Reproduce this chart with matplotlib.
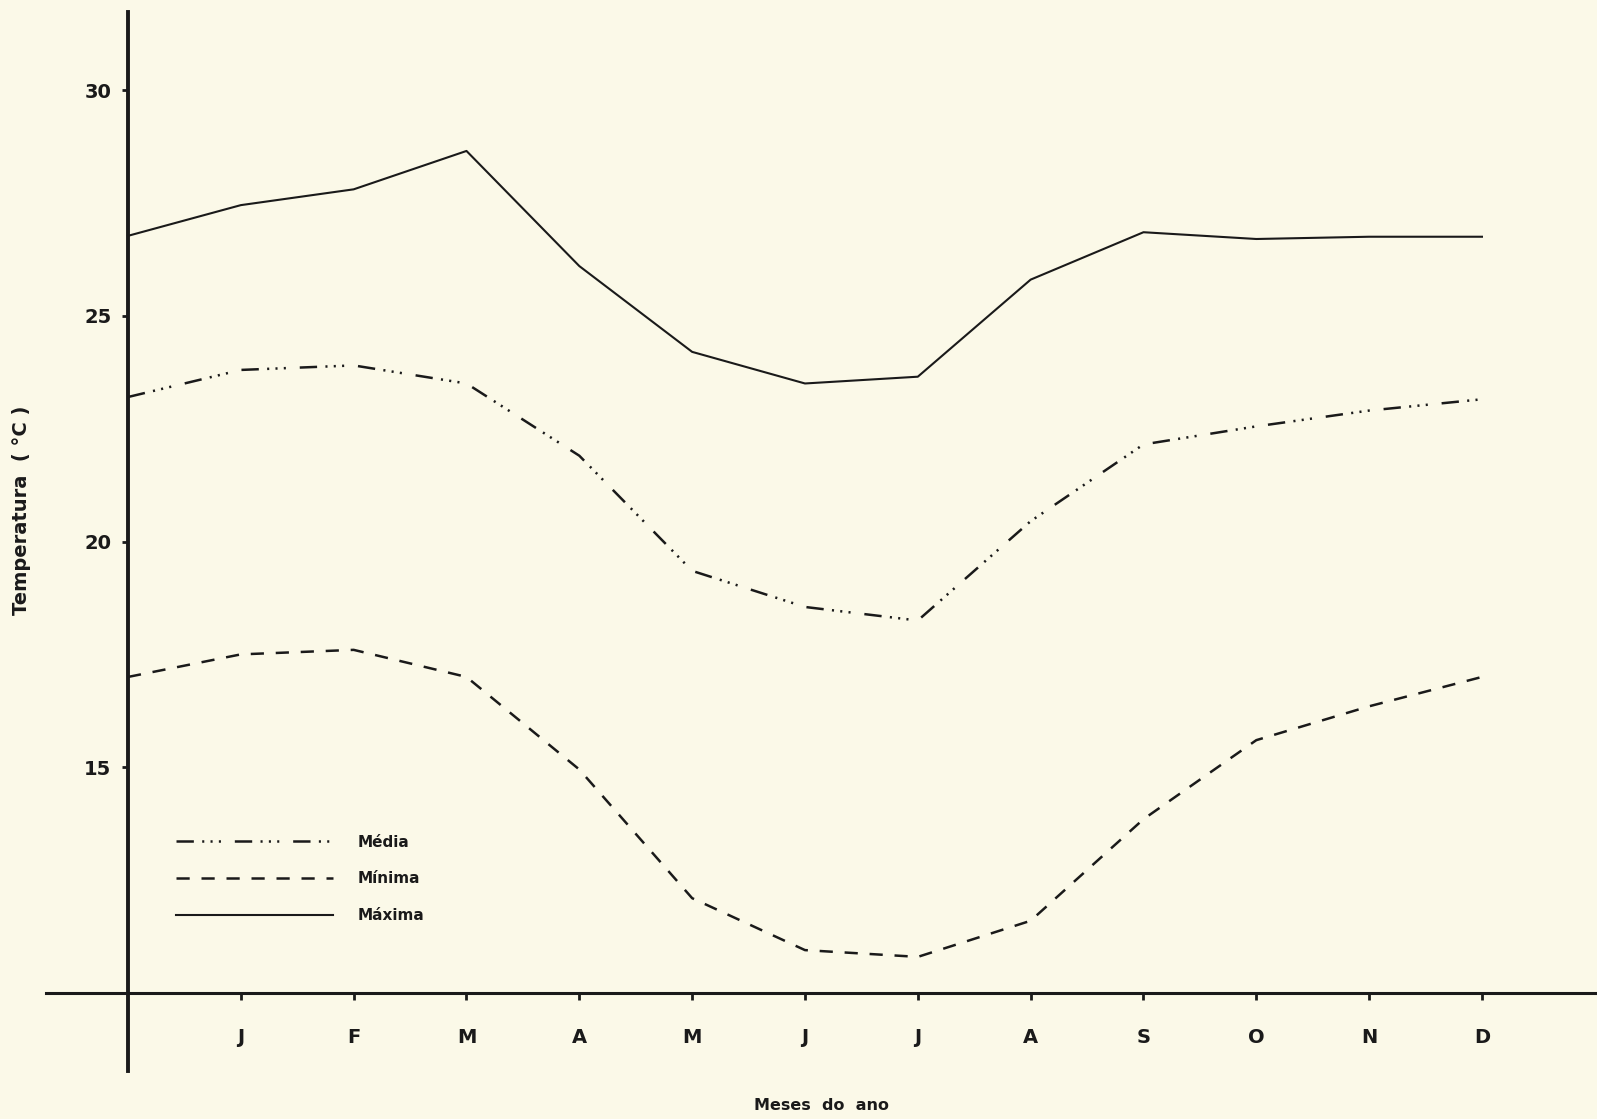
import matplotlib
matplotlib.use('Agg')
import matplotlib.pyplot as plt

# ---- data ----
months = ['J', 'F', 'M', 'A', 'M', 'J', 'J', 'A', 'S', 'O', 'N', 'D']
x_pos = list(range(0, 13))          # 0 = starting point on the y-axis, 1..12 = months
maxima = [26.77, 27.45, 27.8, 28.65, 26.1, 24.2, 23.5, 23.65, 25.8, 26.85, 26.7, 26.75, 26.75]
media = [23.2, 23.8, 23.9, 23.5, 21.9, 19.35, 18.55, 18.25, 20.45, 22.15, 22.55, 22.9, 23.15]
minima = [17.0, 17.5, 17.6, 17.0, 14.95, 12.1, 10.95, 10.8, 11.6, 13.85, 15.6, 16.35, 17.0]
yticks = [15, 20, 25, 30]
series_labels = ['Média', 'Mínima', 'Máxima']

plt.rcParams['font.family'] = ['DejaVu Sans']
plt.rcParams['font.weight'] = 'bold'
plt.rcParams['lines.scale_dashes'] = False

bg = '#fbf9e8'
ink = '#1a1a1a'

W, H = 1597, 1119
fig = plt.figure(figsize=(W / 100, H / 100), dpi=100, facecolor=bg)
ax = fig.add_axes([0, 0, 1, 1])
ax.set_facecolor(bg)

# pixel geometry of the reference
x0_px, dx_px = 128, 112.83
y10_px, dy_px = 993, 45.15
ax.set_xlim(-x0_px / dx_px, (W - x0_px) / dx_px)
ax.set_ylim(10 - (H - y10_px) / dy_px, 30 + 90 / dy_px)

media_style = (0, (12.5, 6.0, 1.5, 4.5, 1.5, 4.5, 1.5, 10.0))
minima_style = (0, (9.5, 8.5))

l1, = ax.plot(x_pos, media, color=ink, lw=1.8, linestyle=media_style, label=series_labels[0])
l2, = ax.plot(x_pos, minima, color=ink, lw=1.8, linestyle=minima_style, label=series_labels[1])
l3, = ax.plot(x_pos, maxima, color=ink, lw=1.5, linestyle='-', label=series_labels[2])

# axes spines crossing at (0, 10)
for s in ['top', 'right']:
    ax.spines[s].set_visible(False)
ax.spines['left'].set_position(('data', 0))
ax.spines['bottom'].set_position(('data', 10))
ax.spines['left'].set_bounds(10 - 78 / dy_px, 30 + 78 / dy_px)
ax.spines['bottom'].set_bounds(-82 / dx_px, (W - x0_px) / dx_px)
ax.spines['left'].set_linewidth(2.8)
ax.spines['bottom'].set_linewidth(2.2)
ax.spines['left'].set_color(ink)
ax.spines['bottom'].set_color(ink)

ax.set_yticks(yticks)
ax.set_yticklabels([str(v) for v in yticks])
ax.set_xticks(range(1, 13))
ax.set_xticklabels(months)
ax.tick_params(axis='y', direction='out', length=4, width=2, pad=8, labelsize=14, colors=ink)
ax.tick_params(axis='x', direction='out', length=5, width=2, pad=20, labelsize=14, colors=ink)

fig.text(22 / W, 1 - 510 / H, 'Temperatura  ( °C )', rotation=90, ha='center', va='center',
         fontsize=14, fontweight='bold', color=ink)
fig.text(822 / W, 1 - 1105 / H, 'Meses  do  ano', ha='center', va='center',
         fontsize=11.5, fontweight='bold', color=ink)

ax.legend(handles=[l1, l2, l3], loc='upper left', bbox_to_anchor=(168 / W, 1 - 827 / H),
          bbox_transform=fig.transFigure, frameon=False, borderpad=0,
          handlelength=10.3, handletextpad=1.6, labelspacing=1.42,
          prop={'weight': 'bold', 'size': 11}, labelcolor=ink)

fig.savefig('out.png', dpi=100, facecolor=bg)
